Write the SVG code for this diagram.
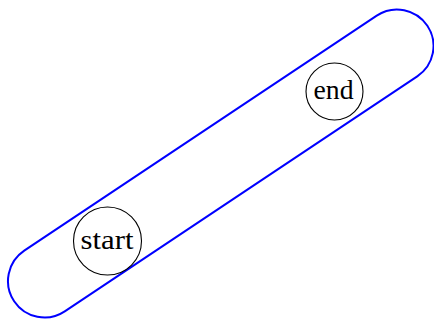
<svg xmlns="http://www.w3.org/2000/svg" width="434" height="320" viewBox="0 0 434 320">
<style>
.node circle { fill: none; stroke: #000; stroke-width: 1.1; }
.node text { font-family: "Liberation Serif", "DejaVu Serif", serif; font-size: 27px; text-anchor: middle; fill: #000; }
.fit { fill: none; stroke: #0000ff; stroke-width: 2; }
</style>
<rect width="434" height="320" fill="#fff"/>
<g id="fit">
<path class="fit" d="M 24.25 250.63 L 376.75 15.63 A 36.5 36.5 0 0 1 417.25 76.37 L 64.75 311.37 A 36.5 36.5 0 0 1 24.25 250.63 Z"/>
</g>
<g id="connectors"></g>
<g id="start" class="node">
<circle cx="107.5" cy="241" r="34"/>
<text x="107" y="248.5" textLength="53" lengthAdjust="spacingAndGlyphs">start</text>
</g>
<g id="end" class="node">
<circle cx="334.5" cy="91.5" r="28.5"/>
<text x="333.5" y="98.5" textLength="40" lengthAdjust="spacingAndGlyphs">end</text>
</g>
</svg>
